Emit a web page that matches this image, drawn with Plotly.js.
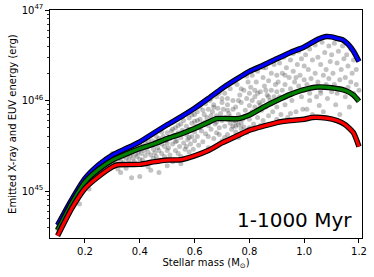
<!DOCTYPE html>
<html>
<head>
<meta charset="utf-8">
<script src="https://cdn.plot.ly/plotly-3.0.1.min.js"></script>
<style>html,body{margin:0;padding:0;background:#fff;}#chart{width:374px;height:277px;}</style>
</head>
<body>
<div id="chart"></div>
<script>
// Curve masses (solar masses)
const blueMass = [0.10,0.15,0.20,0.25,0.30,0.35,0.40,0.45,0.50,0.55,0.60,0.65,0.70,0.75,0.80,0.85,0.90,0.95,1.00,1.05,1.08,1.10,1.12,1.14,1.16,1.18,1.20];
const blueEnergy = [4.2e44,7.9e44,1.38e45,1.95e45,2.5e45,2.95e45,3.5e45,4.35e45,5.4e45,6.6e45,8.2e45,1.05e46,1.36e46,1.7e46,2.1e46,2.45e46,2.9e46,3.4e46,3.9e46,4.75e46,5.1e46,5.05e46,4.85e46,4.7e46,4.2e46,3.5e46,2.7e46];

const greenMass = [0.10,0.15,0.20,0.25,0.30,0.35,0.40,0.45,0.50,0.55,0.60,0.65,0.68,0.72,0.76,0.80,0.85,0.90,0.95,1.00,1.05,1.10,1.15,1.18,1.20];
const greenEnergy = [3.7e44,7.2e44,1.26e45,1.74e45,2.2e45,2.57e45,2.95e45,3.3e45,3.8e45,4.27e45,4.9e45,5.75e45,6.3e45,6.3e45,6.3e45,6.9e45,8.4e45,1.0e46,1.17e46,1.32e46,1.41e46,1.38e46,1.29e46,1.15e46,9.8e45];

const redMass = [0.10,0.15,0.20,0.25,0.30,0.32,0.40,0.45,0.50,0.55,0.60,0.65,0.70,0.75,0.80,0.85,0.90,0.95,1.00,1.03,1.08,1.12,1.15,1.18,1.20];
const redEnergy = [3.2e44,6.3e44,1.07e45,1.45e45,1.85e45,1.95e45,1.97e45,2.1e45,2.2e45,2.22e45,2.45e45,2.8e45,3.4e45,4.0e45,4.7e45,5.2e45,5.7e45,6.0e45,6.2e45,6.5e45,6.4e45,6.0e45,5.4e45,4.4e45,3.1e45];

// Y tick labels
const yTickVals = [1e45, 1e46, 1e47];
const yTickText = ['10<sup>45</sup>', '10<sup>46</sup>', '10<sup>47</sup>'];
const xTickVals = [0.2, 0.4, 0.6, 0.8, 1.0, 1.2];
const xTickText = ['0.2', '0.4', '0.6', '0.8', '1.0', '1.2'];

// Individual stars (mass, energy)
const starMass = [
0.10,0.105,0.11,0.115,0.12,0.125,0.13,0.135,0.14,0.145,0.15,0.155,0.16,0.165,0.17,0.175,0.18,0.185,0.19,0.195,0.2,0.14,0.16,0.18,0.215,
0.2,0.21,0.215,0.22,0.225,0.23,0.235,0.24,0.245,0.25,0.25,0.255,0.26,0.26,0.265,0.27,0.27,0.275,0.28,0.28,0.285,0.29,0.29,0.295,0.3,0.3,0.3,
0.305,0.31,0.31,0.315,0.32,0.32,0.325,0.33,0.33,0.33,0.335,0.34,0.34,0.345,0.35,0.35,0.35,0.355,0.36,0.36,0.365,0.37,0.37,0.37,0.375,0.38,0.38,0.385,0.39,0.39,0.395,0.4,0.4,0.4,0.4,
0.405,0.41,0.41,0.415,0.42,0.42,0.425,0.43,0.43,0.435,0.44,0.44,0.445,0.45,0.45,0.45,0.455,0.46,0.46,0.465,0.47,0.47,0.47,0.475,0.48,0.48,0.485,0.49,0.49,0.495,0.5,0.5,0.5,0.5,0.43,0.46,0.48,0.44,
0.505,0.51,0.51,0.515,0.52,0.52,0.525,0.53,0.53,0.535,0.54,0.54,0.545,0.55,0.55,0.55,0.555,0.56,0.56,0.565,0.57,0.57,0.575,0.58,0.58,0.58,0.585,0.59,0.59,0.595,0.6,0.6,0.6,0.6,0.52,0.54,0.56,0.58,0.57,0.53,0.59,0.55,
0.605,0.61,0.61,0.615,0.62,0.62,0.625,0.63,0.63,0.635,0.64,0.64,0.645,0.65,0.65,0.65,0.655,0.66,0.66,0.665,0.67,0.67,0.675,0.68,0.68,0.68,0.685,0.69,0.69,0.695,0.7,0.7,0.7,0.7,0.62,0.64,0.66,0.68,0.63,0.67,0.65,0.69,0.61,0.66,
0.705,0.71,0.71,0.715,0.72,0.72,0.725,0.73,0.73,0.735,0.74,0.74,0.745,0.75,0.75,0.75,0.755,0.76,0.76,0.765,0.77,0.77,0.775,0.78,0.78,0.785,0.79,0.79,0.795,0.8,0.8,0.8,0.8,0.72,0.74,0.76,0.73,0.77,0.75,0.78,0.71,0.76,0.74,0.79,0.72,0.77,
0.805,0.81,0.81,0.815,0.82,0.82,0.825,0.83,0.83,0.835,0.84,0.84,0.845,0.85,0.85,0.85,0.855,0.86,0.86,0.865,0.87,0.87,0.875,0.88,0.88,0.885,0.89,0.89,0.895,0.9,0.9,0.9,0.9,0.82,0.84,0.86,0.88,0.83,0.87,0.85,0.81,
0.905,0.91,0.91,0.915,0.92,0.92,0.925,0.93,0.93,0.935,0.94,0.94,0.945,0.95,0.95,0.955,0.96,0.96,0.965,0.97,0.97,0.975,0.98,0.98,0.985,0.99,0.99,0.995,1.0,1.0,1.0,0.93,0.97,0.95,
1.005,1.01,1.01,1.015,1.02,1.02,1.025,1.03,1.03,1.035,1.04,1.04,1.045,1.05,1.05,1.055,1.06,1.06,1.065,1.07,1.07,1.075,1.08,1.08,1.085,1.09,1.09,1.095,1.1,1.1,1.02,1.06,
1.105,1.11,1.11,1.115,1.12,1.12,1.125,1.13,1.13,1.135,1.14,1.14,1.145,1.15,1.15,1.155,1.16,1.16,1.165,1.17,1.17,1.175,1.18,1.18,1.19,1.19,1.195,1.2
];
const starEnergy = [
3.8e44,4.2e44,4.6e44,4.9e44,5.3e44,5.5e44,6.0e44,6.3e44,6.6e44,7.0e44,7.4e44,7.6e44,8.3e44,8.6e44,9.0e44,9.4e44,1.0e45,1.03e45,1.1e45,1.12e45,1.2e45,5.8e44,7.5e44,7.2e44,1.05e45,
1.25e45,1.3e45,1.35e45,1.4e45,1.35e45,1.5e45,1.45e45,1.55e45,1.6e45,1.7e45,1.6e45,1.75e45,1.8e45,1.65e45,1.85e45,1.9e45,1.75e45,2.0e45,1.95e45,2.1e45,1.85e45,2.2e45,2.05e45,2.3e45,2.0e45,2.4e45,2.6e45,
2.2e45,2.5e45,2.1e45,2.35e45,2.7e45,1.75e45,2.3e45,2.5e45,2.15e45,1.6e45,2.8e45,2.4e45,2.05e45,2.6e45,2.9e45,2.3e45,1.78e45,2.5e45,2.7e45,2.2e45,2.45e45,3.0e45,1.4e45,2.6e45,2.3e45,2.8e45,2.1e45,2.55e45,3.1e45,2.4e45,2.7e45,1.45e45,2.9e45,2.25e45,3.3e45,
2.6e45,3.1e45,2.2e45,2.8e45,3.4e45,2.45e45,3.0e45,2.7e45,1.85e45,3.2e45,2.5e45,1.7e45,3.6e45,2.9e45,2.3e45,3.3e45,2.65e45,3.5e45,2.4e45,3.0e45,1.6e45,3.8e45,2.8e45,2.2e45,3.3e45,2.6e45,4.0e45,3.1e45,2.4e45,3.6e45,2.8e45,4.4e45,3.4e45,1.9e45,3.6e45,4.0e45,4.5e45,2.1e45,
3.0e45,3.8e45,2.5e45,4.6e45,3.3e45,2.1e45,4.1e45,2.8e45,5.0e45,3.6e45,4.4e45,2.6e45,3.1e45,5.5e45,3.9e45,2.4e45,4.7e45,3.4e45,6.0e45,2.9e45,4.2e45,5.2e45,3.7e45,2.7e45,6.4e45,4.8e45,3.3e45,5.6e45,4.0e45,2.9e45,7.0e45,4.5e45,3.6e45,5.9e45,4.8e45,5.3e45,4.5e45,3.9e45,3.1e45,3.5e45,6.9e45,2.0e45,
5.2e45,4.0e45,7.5e45,3.2e45,6.2e45,8.5e45,4.6e45,5.6e45,3.5e45,7.0e45,9.2e45,4.3e45,6.5e45,5.3e45,3.0e45,8.0e45,1.0e46,6.0e45,4.8e45,7.5e45,3.8e45,9.0e45,5.5e45,1.1e46,6.8e45,4.4e45,8.2e45,5.0e45,1.2e46,7.2e45,3.6e45,9.5e45,6.0e45,1.05e46,5.0e45,5.8e45,6.8e45,5.8e45,7.8e45,8.4e45,4.0e45,4.2e45,6.0e45,1.05e46,
8.0e45,5.2e45,1.2e46,6.5e45,4.2e45,9.0e45,7.2e45,5.6e45,1.35e46,4.8e45,1.0e46,5.2e45,6.0e45,8.5e45,4.5e45,5.8e45,1.5e46,5.4e45,7.0e45,1.15e46,4.9e45,9.5e45,6.2e45,5.1e45,1.3e46,7.8e45,4.4e45,1.05e46,1.6e46,6.2e45,8.8e45,5.0e45,1.2e46,1.05e46,8.0e45,1.0e46,6.6e45,5.6e45,5.2e45,6.6e45,3.9e45,3.9e45,1.6e46,1.85e46,7.8e45,1.35e46,
1.4e46,7.5e45,1.9e46,5.5e45,1.1e46,8.5e45,1.6e46,6.5e45,2.1e46,9.5e45,1.25e46,5.3e45,7.8e45,1.8e46,1.0e46,6.0e45,1.45e46,2.3e46,8.5e45,1.15e46,6.8e45,1.65e46,1.0e46,2.0e46,1.3e46,7.5e45,1.1e46,2.5e46,1.5e46,8.5e45,1.25e46,1.9e46,6.2e45,1.3e46,9.0e45,1.3e46,9.2e45,1.2e46,1.1e46,2.3e46,1.0e46,
1.6e46,2.6e46,1.1e46,7.0e45,2.0e46,1.3e46,3.0e46,9.0e45,1.5e46,2.3e46,1.15e46,6.5e45,1.8e46,2.8e46,1.35e46,1.0e46,2.1e46,3.3e46,1.6e46,7.5e45,1.25e46,2.5e46,1.45e46,3.5e46,1.9e46,1.1e46,2.9e46,8.0e45,1.7e46,2.4e46,1.3e46,1.9e46,1.8e46,7.2e45,
3.2e46,1.5e46,8.0e45,2.2e46,3.7e46,1.2e46,1.75e46,2.8e46,7.0e45,1.4e46,4.1e46,2.0e46,1.1e46,3.0e46,1.6e46,8.8e45,2.5e46,1.3e46,4.4e46,1.9e46,7.5e45,3.4e46,1.5e46,2.2e46,1.05e46,4.0e46,1.75e46,2.7e46,1.25e46,3.2e46,1.0e46,1.2e46,
2.0e46,4.3e46,1.5e46,9.0e45,2.6e46,1.2e46,3.5e46,1.7e46,7.0e45,2.2e46,4.0e46,1.3e46,2.9e46,1.1e46,1.8e46,3.2e46,1.4e46,2.4e46,8.5e45,3.7e46,1.6e46,2.0e46,1.2e46,2.8e46,1.5e46,2.2e46,1.05e46,1.3e46
];

const FONT = 'DejaVu Sans, Liberation Sans, sans-serif';

function curve(x, y, color) {
  return [
    {x: x, y: y, mode: 'lines', type: 'scatter', hoverinfo: 'skip',
     line: {color: 'black', width: 5.5, shape: 'spline', smoothing: 0.5}},
    {x: x, y: y, mode: 'lines', type: 'scatter', hoverinfo: 'skip',
     line: {color: color, width: 3.2, shape: 'spline', smoothing: 0.5}}
  ];
}

const data = [
  {x: starMass, y: starEnergy, mode: 'markers', type: 'scatter', hoverinfo: 'skip',
   marker: {size: 5, color: 'rgba(0,0,0,0.24)', line: {width: 0}}}
].concat(curve(blueMass, blueEnergy, '#0000ff'))
 .concat(curve(greenMass, greenEnergy, '#007f00'))
 .concat(curve(redMass, redEnergy, '#ff0000'));

const layout = {
  width: 374, height: 277,
  margin: {l: 50, r: 12, t: 10, b: 39, pad: 0},
  paper_bgcolor: '#fff', plot_bgcolor: '#fff',
  showlegend: false,
  font: {family: FONT, size: 10, color: '#000'},
  xaxis: {
    range: [0.0723, 1.211],
    tickvals: xTickVals,
    ticktext: xTickText,
    ticks: 'outside', ticklen: 3.5, tickwidth: 1, tickcolor: '#000',
    showline: true, linecolor: '#000', linewidth: 1.2, mirror: true,
    showgrid: false, zeroline: false,
    tickfont: {family: FONT, size: 10, color: '#000'},
    title: {text: 'Stellar mass (M<sub>⊙</sub>)', font: {family: FONT, size: 10, color: '#000'}, standoff: 2}
  },
  yaxis: {
    type: 'log',
    range: [44.481, 47],
    tickvals: yTickVals,
    ticktext: yTickText,
    ticks: 'outside', ticklen: 3.5, tickwidth: 1, tickcolor: '#000',
    minor: {ticks: 'outside', ticklen: 2, tickwidth: 0.8, tickcolor: '#000', showgrid: false,
            tickvals: [4e44,5e44,6e44,7e44,8e44,9e44,2e45,3e45,4e45,5e45,6e45,7e45,8e45,9e45,2e46,3e46,4e46,5e46,6e46,7e46,8e46,9e46]},
    showline: true, linecolor: '#000', linewidth: 1.2, mirror: true,
    showgrid: false, zeroline: false,
    tickfont: {family: FONT, size: 10, color: '#000'}
  },
  annotations: [{
    text: '1-1000 Myr', xref: 'paper', yref: 'paper',
    x: 0.975, y: 0.08, xanchor: 'right', yanchor: 'middle',
    showarrow: false, font: {family: FONT, size: 20, color: '#000'}
  }, {
    text: 'Emitted X-ray and EUV energy (erg)', xref: 'paper', yref: 'paper',
    x: -0.122, y: 0.5, xanchor: 'center', yanchor: 'middle', textangle: -90,
    showarrow: false, font: {family: FONT, size: 10, color: '#000'}
  }]
};

Plotly.newPlot('chart', data, layout, {staticPlot: true, displayModeBar: false});
</script>
</body>
</html>
